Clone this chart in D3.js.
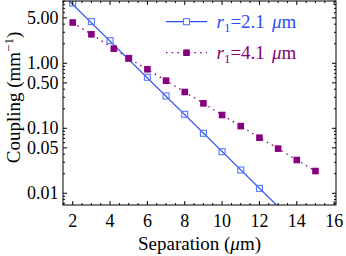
<!DOCTYPE html>
<html><head><meta charset="utf-8">
<script src="https://cdn.jsdelivr.net/npm/d3@7"></script>
<style>html,body{margin:0;padding:0;background:#fff;} svg{display:block;} svg text{font-family:"Liberation Serif","Times New Roman",Times,"DejaVu Serif",serif;}</style>
</head><body>
<script>
// ---- data ----
const sepBlue = [2,3,4,5,6,7,8,9,10,11,12];
const coupBlue = [8.47,4.37,2.23,1.19,0.609,0.314,0.164,0.0838,0.0436,0.0228,0.0119];
// straight fit line for r1=2.1 (end points, clipped by the frame)
const fitBlueX = [1.4, 13.5];
const fitBlueY = [11.9, 0.0045];
const sepPurple = [2,3,4.2,5,6,7,8,9,10,11,12,13,14,15];
const coupPurple = [4.24,2.79,1.68,1.19,0.809,0.540,0.362,0.242,0.160,0.108,0.0716,0.0486,0.0325,0.0220];
const xTicks = [2,4,6,8,10,12,14,16];
const yTicks = [5,1,0.5,0.1,0.05,0.01];
const yTickLabels = ["5.00","1.00","0.50","0.10","0.05","0.01"];
const yMinor = [0.007,0.008,0.009,0.02,0.03,0.04,0.06,0.07,0.08,0.09,0.2,0.3,0.4,0.6,0.7,0.8,0.9,2,3,4,6,7,8,9];

const W=346,H=256;
const L=63,R=336,T=1,B=205;
const blue="#2c4ff2", blueMk="#5577ff", purple="#86007f";

const svg=d3.select("body").append("svg").attr("width",W).attr("height",H);
const x=d3.scaleLinear().domain([1.48,16.1]).range([L,R]);
const y=d3.scaleLog().domain([9.09,0.0066]).range([T,B]);

svg.append("defs").append("clipPath").attr("id","clip")
  .append("rect").attr("x",L).attr("y",T).attr("width",R-L).attr("height",B-T);

const g=svg.append("g");
const plot=g.append("g").attr("clip-path","url(#clip)");

const line=d3.line().x(d=>x(d[0])).y(d=>y(d[1]));
plot.append("path").datum(fitBlueX.map((v,i)=>[v,fitBlueY[i]]))
  .attr("d",line).attr("fill","none").attr("stroke",blue).attr("stroke-width",1.2);
plot.append("path").datum(sepPurple.map((v,i)=>[v,coupPurple[i]]))
  .attr("d",line).attr("fill","none").attr("stroke",purple).attr("stroke-width",1.3)
  .attr("stroke-dasharray","1.5,4.2");

const s=6;
plot.selectAll(".bm").data(sepBlue.map((v,i)=>[v,coupBlue[i]])).enter().append("rect")
  .attr("x",d=>x(d[0])-s/2).attr("y",d=>y(d[1])-s/2).attr("width",s).attr("height",s)
  .attr("fill","none").attr("stroke",blueMk).attr("stroke-width",1.1);
plot.selectAll(".pm").data(sepPurple.map((v,i)=>[v,coupPurple[i]])).enter().append("rect")
  .attr("x",d=>x(d[0])-3.3).attr("y",d=>y(d[1])-3.3).attr("width",6.6).attr("height",6.6)
  .attr("fill",purple);

g.append("rect").attr("x",L).attr("y",T).attr("width",R-L).attr("height",B-T)
  .attr("fill","none").attr("stroke","#000").attr("stroke-width",1);

const xMinor=d3.range(1.5,16.1,0.5).filter(v=>!xTicks.includes(v));
const tk=g.append("g").attr("stroke","#000").attr("stroke-width",1);
xTicks.forEach(v=>{
  tk.append("line").attr("x1",x(v)).attr("x2",x(v)).attr("y1",B).attr("y2",B-4);
  tk.append("line").attr("x1",x(v)).attr("x2",x(v)).attr("y1",T).attr("y2",T+4);
});
xMinor.forEach(v=>{
  tk.append("line").attr("x1",x(v)).attr("x2",x(v)).attr("y1",B).attr("y2",B-2);
  tk.append("line").attr("x1",x(v)).attr("x2",x(v)).attr("y1",T).attr("y2",T+2);
});
yTicks.forEach(v=>{
  tk.append("line").attr("y1",y(v)).attr("y2",y(v)).attr("x1",L).attr("x2",L+4);
  tk.append("line").attr("y1",y(v)).attr("y2",y(v)).attr("x1",R).attr("x2",R-4);
});
yMinor.forEach(v=>{
  tk.append("line").attr("y1",y(v)).attr("y2",y(v)).attr("x1",L).attr("x2",L+2);
  tk.append("line").attr("y1",y(v)).attr("y2",y(v)).attr("x1",R).attr("x2",R-2);
});

const fs=18, ft=19;
g.selectAll(".xl").data(xTicks).enter().append("text")
  .attr("x",d=>x(d)).attr("y",226.5).attr("text-anchor","middle")
  .attr("font-size",fs).attr("fill","#000").text(d=>d);
g.selectAll(".yl").data(yTicks).enter().append("text")
  .attr("x",58.5).attr("y",d=>y(d)+6).attr("text-anchor","end")
  .attr("font-size",fs).attr("fill","#000")
  .text((d,i)=>yTickLabels[i]);

const xt=g.append("text").attr("x",(L+R)/2).attr("y",250).attr("text-anchor","middle")
  .attr("font-size",ft).attr("fill","#000");
xt.append("tspan").text("Separation (");
xt.append("tspan").attr("font-style","italic").text("μ");
xt.append("tspan").text("m)");

const yt=g.append("text").attr("transform","translate(19.5,97.5) rotate(-90)")
  .attr("text-anchor","middle").attr("font-size",ft).attr("fill","#000");
yt.append("tspan").text("Coupling (mm");
yt.append("tspan").attr("font-size",13).attr("dy",-7).text("−1");
yt.append("tspan").attr("dy",7).text(")");

function legendText(yy,val,col){
  const t=g.append("text").attr("x",216.5).attr("y",yy)
    .attr("font-size",ft).attr("fill",col);
  t.append("tspan").attr("font-style","italic").text("r");
  t.append("tspan").attr("font-size",13).attr("dy",4).text("1");
  t.append("tspan").attr("dy",-4).text("="+val);
  t.append("tspan").attr("dx",7).attr("font-style","italic").text("μ");
  t.append("tspan").text("m");
}
g.append("line").attr("x1",166).attr("x2",207).attr("y1",21.7).attr("y2",21.7)
  .attr("stroke",blue).attr("stroke-width",1.2);
g.append("rect").attr("x",186.5-s/2).attr("y",21.7-s/2).attr("width",s).attr("height",s)
  .attr("fill","#fff").attr("stroke",blueMk).attr("stroke-width",1.1);
legendText(28,"2.1",blue);
g.append("line").attr("x1",166).attr("x2",207).attr("y1",52.7).attr("y2",52.7)
  .attr("stroke",purple).attr("stroke-width",1.3).attr("stroke-dasharray","1.5,4.2");
g.append("rect").attr("x",186.5-3.3).attr("y",52.7-3.3).attr("width",6.6).attr("height",6.6)
  .attr("fill",purple);
legendText(59,"4.1",purple);
</script>
</body></html>
